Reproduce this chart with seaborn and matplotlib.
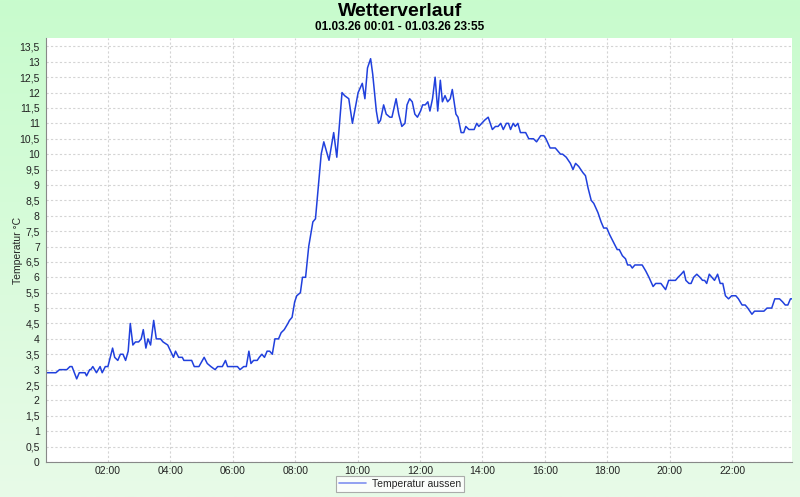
import numpy as np
import pandas as pd
import matplotlib
matplotlib.use("Agg")
import matplotlib.pyplot as plt
import matplotlib.dates as mdates
from matplotlib.ticker import MultipleLocator, FuncFormatter
from matplotlib.lines import Line2D
import seaborn as sns

# values (01.03.26)
zeit = [
    "00:01", "00:20", "00:27", "00:41", "00:47", "00:51", "01:00", "01:05", "01:16", "01:19",
    "01:25", "01:27", "01:31", "01:38", "01:45", "01:49", "01:55", "02:00", "02:09", "02:13",
    "02:19", "02:24", "02:29", "02:34", "02:39", "02:43", "02:48", "02:53", "02:59", "03:04",
    "03:08", "03:13", "03:17", "03:22", "03:28", "03:33", "03:41", "03:46", "03:55", "04:06",
    "04:10", "04:16", "04:23", "04:26", "04:41", "04:46", "04:55", "05:05", "05:11", "05:18",
    "05:26", "05:31", "05:40", "05:46", "05:50", "06:09", "06:14", "06:21", "06:26", "06:31",
    "06:35", "06:40", "06:47", "06:51", "06:56", "07:01", "07:06", "07:11", "07:16", "07:21",
    "07:28", "07:33", "07:39", "07:46", "07:49", "07:54", "07:59", "08:03", "08:10", "08:14",
    "08:20", "08:26", "08:34", "08:39", "08:50", "08:55", "09:05", "09:14", "09:20", "09:30",
    "09:35", "09:43", "09:50", "10:01", "10:09", "10:14", "10:19", "10:25", "10:29", "10:36",
    "10:40", "10:44", "10:50", "10:55", "11:02", "11:06", "11:14", "11:19", "11:25", "11:31",
    "11:35", "11:40", "11:45", "11:50", "11:55", "12:01", "12:05", "12:10", "12:15", "12:19",
    "12:24", "12:29", "12:34", "12:39", "12:43", "12:48", "12:53", "12:58", "13:02", "13:09",
    "13:13", "13:19", "13:24", "13:28", "13:34", "13:44", "13:49", "13:53", "14:04", "14:11",
    "14:19", "14:25", "14:30", "14:35", "14:40", "14:46", "14:50", "14:54", "14:59", "15:03",
    "15:08", "15:13", "15:23", "15:29", "15:38", "15:44", "15:52", "15:58", "16:02", "16:10",
    "16:20", "16:30", "16:34", "16:41", "16:49", "16:54", "16:59", "17:05", "17:13", "17:18",
    "17:23", "17:29", "17:34", "17:42", "17:48", "17:53", "17:59", "18:04", "18:10", "18:19",
    "18:23", "18:29", "18:35", "18:39", "18:44", "18:48", "18:53", "19:07", "19:14", "19:20",
    "19:28", "19:33", "19:43", "19:52", "19:58", "20:05", "20:11", "20:16", "20:22", "20:27",
    "20:31", "20:37", "20:41", "20:46", "20:52", "20:58", "21:03", "21:07", "21:11", "21:16",
    "21:21", "21:26", "21:32", "21:37", "21:42", "21:47", "21:53", "21:59", "22:07", "22:12",
    "22:19", "22:25", "22:30", "22:38", "22:43", "23:01", "23:07", "23:16", "23:22", "23:31",
    "23:37", "23:42", "23:47", "23:52", "23:55",
]
temperatur = [
    2.9, 2.9, 3.0, 3.0, 3.1, 3.1, 2.7, 2.9, 2.9, 2.8,
    3.0, 3.0, 3.1, 2.9, 3.1, 2.9, 3.1, 3.1, 3.7, 3.4,
    3.3, 3.5, 3.5, 3.3, 3.6, 4.5, 3.8, 3.9, 3.9, 4.0,
    4.3, 3.7, 4.0, 3.8, 4.6, 4.0, 4.0, 3.9, 3.8, 3.4,
    3.6, 3.4, 3.4, 3.3, 3.3, 3.1, 3.1, 3.4, 3.2, 3.1,
    3.0, 3.1, 3.1, 3.3, 3.1, 3.1, 3.0, 3.1, 3.1, 3.6,
    3.2, 3.3, 3.3, 3.4, 3.5, 3.4, 3.6, 3.6, 3.5, 4.0,
    4.0, 4.2, 4.3, 4.5, 4.6, 4.7, 5.2, 5.4, 5.5, 6.0,
    6.0, 7.0, 7.8, 7.9, 10.0, 10.4, 9.8, 10.7, 9.9, 12.0,
    11.9, 11.8, 11.0, 12.0, 12.3, 11.8, 12.8, 13.1, 12.6, 11.4,
    11.0, 11.1, 11.6, 11.3, 11.2, 11.2, 11.8, 11.3, 10.9, 11.0,
    11.6, 11.8, 11.7, 11.3, 11.2, 11.4, 11.6, 11.6, 11.7, 11.4,
    11.8, 12.5, 11.4, 12.4, 11.7, 11.9, 11.7, 11.8, 12.1, 11.3,
    11.2, 10.7, 10.7, 10.9, 10.8, 10.8, 11.0, 10.9, 11.1, 11.2,
    10.8, 10.9, 10.9, 11.0, 10.8, 11.0, 11.0, 10.8, 11.0, 10.9,
    11.0, 10.7, 10.7, 10.5, 10.5, 10.4, 10.6, 10.6, 10.5, 10.2,
    10.2, 10.0, 10.0, 9.9, 9.7, 9.5, 9.7, 9.6, 9.4, 9.3,
    8.9, 8.5, 8.4, 8.1, 7.8, 7.6, 7.6, 7.4, 7.2, 6.9,
    6.9, 6.7, 6.6, 6.4, 6.4, 6.3, 6.4, 6.4, 6.2, 6.0,
    5.7, 5.8, 5.8, 5.6, 5.9, 5.9, 5.9, 6.0, 6.1, 6.2,
    5.9, 5.8, 5.8, 6.0, 6.1, 6.0, 5.9, 5.9, 5.8, 6.1,
    6.0, 5.9, 6.1, 5.8, 5.8, 5.4, 5.3, 5.4, 5.4, 5.3,
    5.1, 5.1, 5.0, 4.8, 4.9, 4.9, 5.0, 5.0, 5.3, 5.3,
    5.2, 5.1, 5.1, 5.3, 5.3,
]

titel = "Wetterverlauf"
untertitel = "01.03.26 00:01 - 01.03.26 23:55"
y_label = "Temperatur °C"
serie = "Temperatur aussen"

df = pd.DataFrame({
    "zeit": pd.to_datetime(["2026-03-01 " + z for z in zeit]),
    "temp": temperatur,
})

sns.set_style("white")
plt.rcParams["font.family"] = ["Liberation Sans", "DejaVu Sans"]

linie = "#2040dd"

fig = plt.figure(figsize=(8.0, 4.97), dpi=100)

# green gradient background
bg = fig.add_axes([0, 0, 1, 1], zorder=0)
verlauf = np.linspace(0, 1, 256).reshape(-1, 1)
oben = np.array([200, 252, 205]) / 255
unten = np.array([232, 250, 232]) / 255
farben = oben + (unten - oben) * verlauf[..., None]
bg.imshow(farben, aspect="auto", extent=[0, 1, 0, 1])
bg.set_axis_off()

ax = fig.add_axes([0.0575, 0.0704, 0.9325, 0.853], zorder=1)
ax.set_facecolor("white")

sns.lineplot(data=df, x="zeit", y="temp", ax=ax, color=linie, linewidth=1.1, legend=False)

ax.set_xlim(pd.Timestamp("2026-03-01 00:01"), pd.Timestamp("2026-03-01 23:55"))
ax.set_ylim(0, 13.77)

ax.xaxis.set_major_locator(mdates.HourLocator(byhour=range(2, 24, 2)))
ax.xaxis.set_major_formatter(mdates.DateFormatter("%H:%M"))
ax.yaxis.set_major_locator(MultipleLocator(0.5))
ax.yaxis.set_major_formatter(FuncFormatter(lambda v, p: f"{v:g}".replace(".", ",")))

ax.grid(True, color="#d4d4d4", linestyle=(0, (2, 2)), linewidth=0.8)
ax.tick_params(axis="both", labelsize=7.5, colors="#222222", length=3, width=0.7,
               direction="out", pad=1.5)
ax.tick_params(axis="both", color="#888888")
ax.tick_params(axis="x", length=0, pad=3)

for s in ["top", "right"]:
    ax.spines[s].set_visible(False)
for s in ["left", "bottom"]:
    ax.spines[s].set_color("#888888")
    ax.spines[s].set_linewidth(0.8)

ax.set_xlabel("")
ax.set_ylabel(y_label, fontsize=7.5)
ax.yaxis.set_label_coords(-0.031, 0.5)

fig.text(0.5, 0.977, titel, ha="center", va="center", fontsize=14, fontweight="bold",
         color="black")
fig.text(0.5, 0.946, untertitel, ha="center", va="center", fontsize=8.5, fontweight="bold",
         color="black")

griff = Line2D([], [], color="#8090f0", linewidth=1.2)
leg = fig.legend([griff], [serie], loc="lower center", bbox_to_anchor=(0.5, 0.0),
                 frameon=True, fancybox=False, fontsize=7.5, handlelength=2.6,
                 borderpad=0.3, handletextpad=0.5)
leg.get_frame().set_edgecolor("#999999")
leg.get_frame().set_linewidth(0.8)

fig.savefig("out.png", dpi=100)
